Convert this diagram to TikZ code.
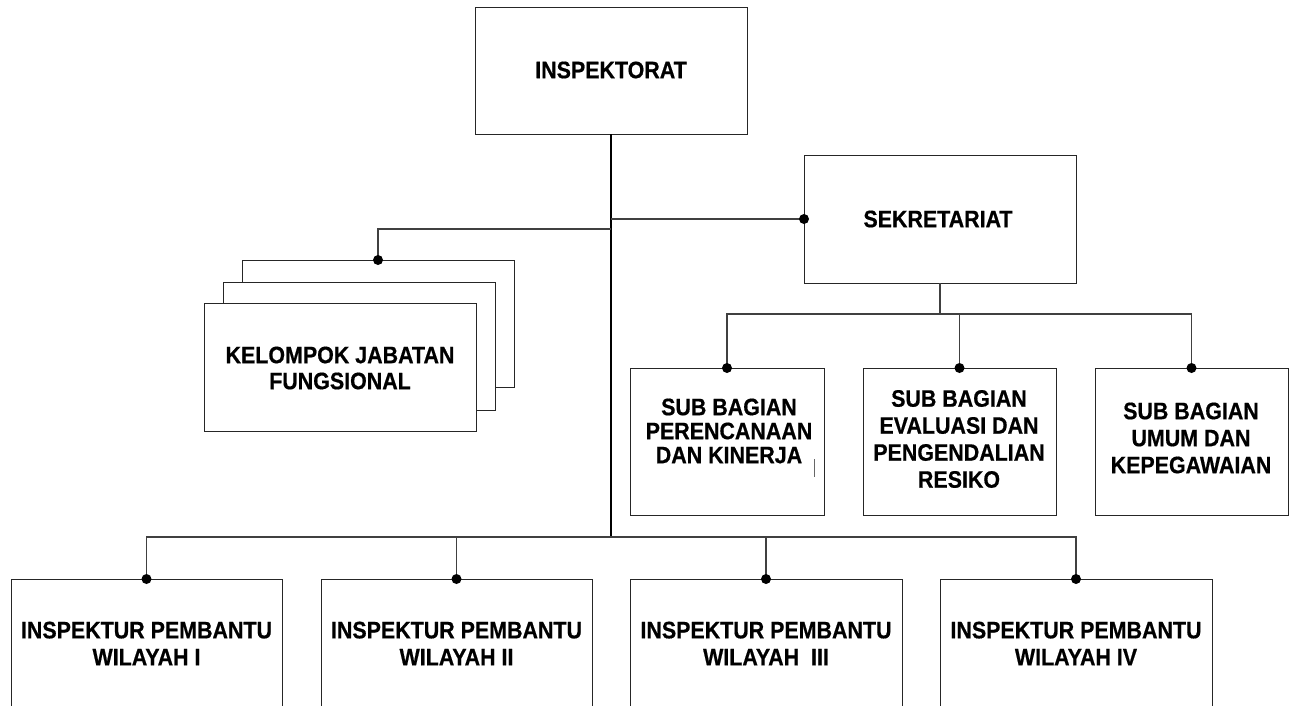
\documentclass[tikz,border=0pt]{standalone}
\usepackage{fontspec}
\setmainfont{Liberation Sans}[FakeStretch=0.9,BoldFeatures={FakeBold=0.6}]
\begin{document}
\begin{tikzpicture}[x=1pt,y=-1pt,
  box/.style={draw=black!85, line width=1pt, fill=white, inner sep=0pt, outer sep=0pt},
  lbl/.style={font=\bfseries\fontsize{23.8}{27}\selectfont, align=center, inner sep=0pt},
  lbltight/.style={font=\bfseries\fontsize{23.8}{24}\selectfont, align=center, inner sep=0pt},
  lblkj/.style={font=\bfseries\fontsize{23.8}{26}\selectfont, align=center, inner sep=0pt},
  conn/.style={draw=black!75, line width=1.1pt},
  trunk/.style={draw=black, line width=1.6pt},
  dotmark/.style={circle, fill=black, inner sep=0pt, minimum size=10pt}]
\clip (0,0) rectangle (1289,705);
\fill[white] (0,0) rectangle (1289,705);

% junction coordinates
\coordinate (sj) at (611,219);
\coordinate (kj) at (611,229);
\coordinate (bbus) at (611,537);
\coordinate (sbus) at (940,314);

% boxes
\node[box, minimum width=272pt, minimum height=127pt] (insp) at (611,70.5) {};
\node[box, minimum width=272pt, minimum height=128pt] (sek) at (940,219) {};
\node[box, minimum width=272pt, minimum height=127pt] (kjb) at (378,323.5) {};
\node[box, minimum width=272pt, minimum height=128pt] (kjm) at (359,346) {};
\node[box, minimum width=272pt, minimum height=128pt] (kjf) at (340,367) {};
\node[box, minimum width=194pt, minimum height=147pt] (sb1) at (727,441.5) {};
\node[box, minimum width=193pt, minimum height=147pt] (sb2) at (959.5,441.5) {};
\node[box, minimum width=193pt, minimum height=147pt] (sb3) at (1191.5,441.5) {};
\node[box, minimum width=271pt, minimum height=141pt] (ip1) at (146.5,649.5) {};
\node[box, minimum width=271pt, minimum height=141pt] (ip2) at (456.5,649.5) {};
\node[box, minimum width=272pt, minimum height=141pt] (ip3) at (766,649.5) {};
\node[box, minimum width=272pt, minimum height=141pt] (ip4) at (1076,649.5) {};

% connectors
\draw[trunk] (insp.south) -- (bbus);
\draw[conn] (sj) -- (sek.west);
\draw[conn] (kj) -| (kjb.north);
\draw[conn] (sek.south) -- (sbus);
\draw[conn] (sbus) -| (sb1.north);
\draw[conn] (sbus) -| (sb2.north);
\draw[conn] (sbus) -| (sb3.north);
\draw[conn] (bbus) -| (ip1.north);
\draw[conn] (bbus) -| (ip2.north);
\draw[conn] (bbus) -| (ip3.north);
\draw[conn] (bbus) -| (ip4.north);

% dots
\node[dotmark] (d0) at (sek.west) {};
\node[dotmark] (d1) at (kjb.north) {};
\node[dotmark] (d2) at (sb1.north) {};
\node[dotmark] (d3) at (sb2.north) {};
\node[dotmark] (d4) at (sb3.north) {};
\node[dotmark] (d5) at (ip1.north) {};
\node[dotmark] (d6) at (ip2.north) {};
\node[dotmark] (d7) at (ip3.north) {};
\node[dotmark] (d8) at (ip4.north) {};

% stray mark inside first sub box
\draw[black!60, line width=0.8pt] (814,459) -- (814,477);

% labels
\node[lbl] (tinsp) at (611,70) {INSPEKTORAT};
\node[lbl] (tsek) at (938,219) {SEKRETARIAT};
\node[lblkj] (tkj) at (340,368) {KELOMPOK JABATAN\\FUNGSIONAL};
\node[lbltight] (tsb1) at (729,431) {SUB BAGIAN\\PERENCANAAN\\DAN KINERJA};
\node[lbl] (tsb2) at (959,439) {SUB BAGIAN\\EVALUASI DAN\\PENGENDALIAN\\RESIKO};
\node[lbl] (tsb3) at (1191,438) {SUB BAGIAN\\UMUM DAN\\KEPEGAWAIAN};
\node[lbl] (tip1) at (146.5,643.5) {INSPEKTUR PEMBANTU\\WILAYAH I};
\node[lbl] (tip2) at (456.5,643.5) {INSPEKTUR PEMBANTU\\WILAYAH II};
\node[lbl] (tip3) at (766,643.5) {INSPEKTUR PEMBANTU\\WILAYAH\ \ III};
\node[lbl] (tip4) at (1076,643.5) {INSPEKTUR PEMBANTU\\WILAYAH IV};
\end{tikzpicture}
\end{document}
